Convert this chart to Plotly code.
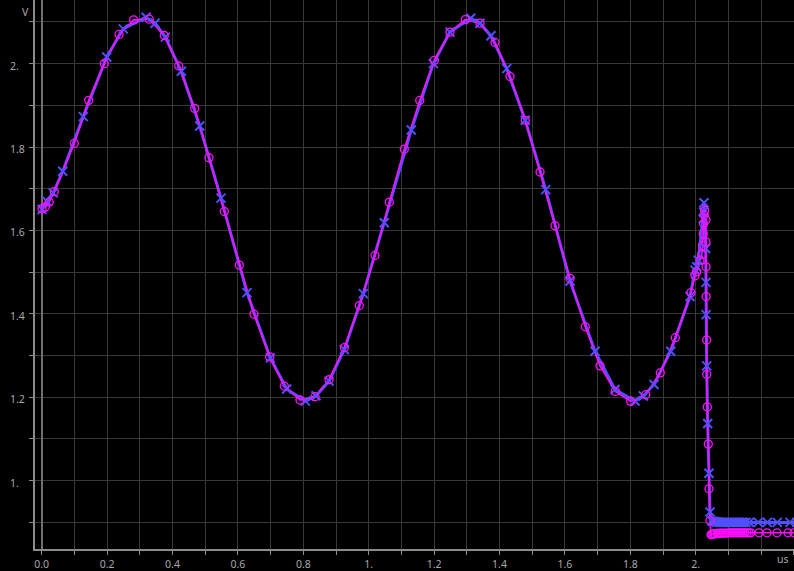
import plotly.graph_objects as go

# ---- data (time in us, voltage in V) ----
t_blue = [0.001, 0.0153, 0.0355, 0.0642, 0.1272, 0.1988, 0.2495, 0.319, 0.3465, 0.378,
          0.4269, 0.4832, 0.5483, 0.6278, 0.6991, 0.7492, 0.8067, 0.8388, 0.8786, 0.9254,
          0.9835, 1.0477, 1.1303, 1.1976, 1.2486, 1.3119, 1.3404, 1.374, 1.422, 1.4789,
          1.5413, 1.6156, 1.692, 1.7532, 1.8144, 1.8398, 1.8725, 1.9235, 1.9826, 1.9979,
          2.003, 2.0079, 2.0232, 2.0240, 2.0254, 2.0306, 2.0315, 2.0318, 2.0336, 2.0367,
          2.0407, 2.0437, 2.0498, 2.056, 2.0621, 2.0682, 2.0743, 2.0804, 2.0865, 2.0927,
          2.0988, 2.1049, 2.111, 2.1171, 2.1232, 2.1294, 2.1355, 2.1416, 2.1477, 2.1538,
          2.1639, 2.1914, 2.219, 2.2495, 2.2884, 2.31]
v_blue = [1.6503, 1.6703, 1.6901, 1.7418, 1.8729, 2.016, 2.0834, 2.1113, 2.097, 2.0636,
          1.9816, 1.8505, 1.6775, 1.451, 1.2944, 1.2198, 1.1907, 1.2038, 1.2388, 1.3142,
          1.4486, 1.6186, 1.841, 2.0, 2.0756, 2.1089, 2.097, 2.0667, 1.988, 1.8641,
          1.698, 1.4787, 1.3104, 1.2188, 1.1912, 1.2031, 1.2308, 1.3104, 1.4415, 1.5049,
          1.513, 1.5287, 1.6281, 1.6441, 1.6663, 1.5566, 1.4756, 1.3981, 1.2753, 1.1371,
          1.0179, 0.9249, 0.903, 0.902, 0.901, 0.901, 0.900, 0.900, 0.900, 0.900,
          0.900, 0.900, 0.900, 0.900, 0.900, 0.900, 0.900, 0.900, 0.900, 0.900,
          0.900, 0.900, 0.900, 0.900, 0.900, 0.900]

t_mag = [0.001, 0.011, 0.023, 0.0385, 0.0997, 0.1437, 0.1914, 0.2364, 0.2813, 0.329,
         0.3749, 0.419, 0.4679, 0.5116, 0.5584, 0.6043, 0.6492, 0.6972, 0.7419, 0.7899,
         0.8358, 0.8786, 0.9254, 0.9713, 1.0193, 1.063, 1.1089, 1.156, 1.2006, 1.2486,
         1.2954, 1.3404, 1.3862, 1.4321, 1.4789, 1.5239, 1.5697, 1.6156, 1.6624, 1.7073,
         1.7541, 1.8012, 1.8471, 1.8917, 1.9376, 1.9856, 1.9979, 2.003, 2.0131, 2.0183,
         2.0208, 2.0232, 2.0242, 2.026, 2.0275, 2.0315, 2.0316, 2.0317, 2.0318, 2.0336,
         2.0337, 2.0355, 2.0385, 2.0407, 2.0437, 2.0468, 2.0498, 2.0529, 2.056, 2.059,
         2.0651, 2.0713, 2.0774, 2.0835, 2.0896, 2.0957, 2.1018, 2.1079, 2.1141, 2.1202,
         2.1263, 2.1324, 2.1385, 2.1446, 2.1508, 2.1569, 2.163, 2.1682, 2.1936, 2.218,
         2.2486, 2.2823, 2.30]
v_mag = [1.652, 1.656, 1.668, 1.693, 1.809, 1.912, 2.0, 2.07, 2.105, 2.1066,
         2.0675, 1.9945, 1.8927, 1.7743, 1.6455, 1.5168, 1.3993, 1.2968, 1.2269, 1.1935,
         1.2014, 1.242, 1.319, 1.42, 1.5399, 1.6679, 1.795, 1.9118, 2.0079, 2.0756,
         2.1056, 2.097, 2.0508, 1.969, 1.8641, 1.7402, 1.6114, 1.4851, 1.369, 1.2753,
         1.2141, 1.1902, 1.2062, 1.2586, 1.3428, 1.451, 1.4915, 1.501, 1.5287, 1.5423,
         1.5638, 1.5924, 1.6162, 1.6377, 1.6479, 1.6257, 1.5726, 1.513, 1.4415, 1.3373,
         1.2551, 1.1769, 1.0877, 0.9806, 0.9047, 0.8705, 0.8715, 0.872, 0.8725, 0.873,
         0.8735, 0.874, 0.874, 0.8745, 0.8745, 0.8745, 0.875, 0.875, 0.875, 0.875,
         0.875, 0.875, 0.875, 0.875, 0.875, 0.875, 0.875, 0.875, 0.875, 0.875,
         0.875, 0.875, 0.875]

x_tickvals = [round(0.1 * i, 1) for i in range(0, 24)]
x_ticktext = ["0.0", "", "0.2", "", "0.4", "", "0.6", "", "0.8", "", "1.", "", "1.2", "",
              "1.4", "", "1.6", "", "1.8", "", "2.", "", "", ""]
y_tickvals = [round(0.9 + 0.1 * i, 1) for i in range(0, 13)]
y_label_vals = [1.0, 1.2, 1.4, 1.6, 1.8, 2.0]
y_label_text = ["1.", "1.2", "1.4", "1.6", "1.8", "2."]

BLUE = "#5050ff"
MAG = "#ff10ff"
GRID = "#383838"
AXIS = "#8c8c8c"
TXT = "#a8a8a8"

fig = go.Figure()
fig.add_trace(go.Scatter(x=t_blue, y=v_blue, mode="lines",
                         line=dict(color=BLUE, width=3), hoverinfo="skip"))
fig.add_trace(go.Scatter(x=t_mag, y=v_mag, mode="lines",
                         line=dict(color=MAG, width=1.6), hoverinfo="skip"))
fig.add_trace(go.Scatter(x=t_blue, y=v_blue, mode="markers",
                         marker=dict(symbol="x-thin", size=9, color=BLUE,
                                     line=dict(color=BLUE, width=2))))
fig.add_trace(go.Scatter(x=t_mag, y=v_mag, mode="markers",
                         marker=dict(symbol="circle-open", size=8, color=MAG,
                                     line=dict(color=MAG, width=1.3))))

annotations = []
for v, txt in zip(y_label_vals, y_label_text):
    annotations.append(dict(x=-27 / 759, xref="paper", y=v, yref="y", text=txt,
                            showarrow=False, xanchor="left", yanchor="middle", yshift=-2,
                            font=dict(family="Noto Sans", size=10.5, color=TXT)))
annotations.append(dict(x=-10 / 759, xref="paper", y=1 - 12.5 / 552, yref="paper", text="V",
                        showarrow=False, xanchor="center", yanchor="middle",
                        font=dict(family="Noto Sans", size=10.5, color=TXT)))
annotations.append(dict(x=748 / 759, xref="paper", y=-10.5 / 552, yref="paper", text="us",
                        showarrow=False, xanchor="center", yanchor="middle",
                        font=dict(family="Noto Sans", size=10.5, color=TXT)))

fig.update_layout(
    width=794, height=571,
    margin=dict(l=35, r=0, t=0, b=19),
    paper_bgcolor="black", plot_bgcolor="black",
    showlegend=False,
    annotations=annotations,
    xaxis=dict(range=[-0.0205, 2.3006], tickvals=x_tickvals, ticktext=x_ticktext,
               showgrid=True, gridcolor=GRID, gridwidth=1,
               zeroline=True, zerolinecolor="#707070", zerolinewidth=1.5,
               showline=True, linecolor=AXIS, linewidth=2,
               ticks="outside", ticklen=4, tickcolor=AXIS, tickwidth=1,
               tickfont=dict(family="Noto Sans", size=10.5, color=TXT),
               fixedrange=True),
    yaxis=dict(range=[0.8362, 2.1526], tickvals=y_tickvals, showticklabels=False,
               showgrid=True, gridcolor=GRID, gridwidth=1, zeroline=False,
               showline=True, linecolor=AXIS, linewidth=2,
               ticks="outside", ticklen=4, tickcolor=AXIS, tickwidth=1,
               fixedrange=True),
)

fig.write_html("out.html", config={"displayModeBar": False},
               post_script="document.body.style.margin='0';document.body.style.background='black';")
